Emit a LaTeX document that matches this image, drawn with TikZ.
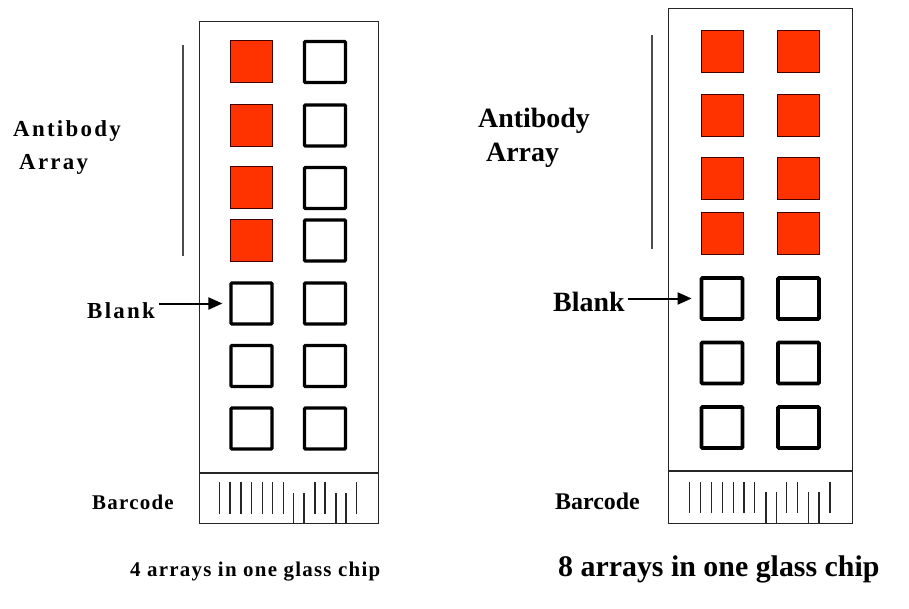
\documentclass[tikz,border=0pt]{standalone}
\usepackage{fontspec}
\setmainfont{Liberation Serif}
\newfontfamily\spc[LetterSpace=10]{Liberation Serif}
\newfontfamily\spcb[LetterSpace=6]{Liberation Serif}
\usetikzlibrary{arrows.meta}
\definecolor{spotred}{RGB}{255,51,0}
\begin{document}
\begin{tikzpicture}[x=1bp,y=-1bp,
  chip/.style={draw=black!85, line width=1.2bp, inner sep=0pt, anchor=north west},
  redsq/.style={draw=black!75!red, line width=1bp, fill=spotred, minimum size=42bp, inner sep=0pt},
  blanksq/.style={draw=black, line width=3.2bp, minimum size=41bp, inner sep=0pt, rounded corners=1bp},
  guide/.style={draw=black!70, line width=1.5bp},
  bar/.style={draw=black!85, line width=1.2bp},
  lbl/.style={inner sep=0pt, anchor=base west, font=\bfseries},
  pointer/.style={draw=black, line width=2bp, -{Triangle[length=14bp,width=12bp]}}
]
\useasboundingbox (0,0) rectangle (909,609);

% ---------- left chip ----------
\node[chip, minimum width=179bp, minimum height=502bp] (chipL) at (199,21) {};
\draw[chip] (199,473) -- (378,473);
\foreach \y [count=\i] in {62,125.5,188,240.5}{
  \node[redsq] (L1r\i) at (251.5,\y) {};
  \node[blanksq] (L2r\i) at (325,\y) {};
}
\foreach \y [count=\i from 5] in {303.5,366,428.5}{
  \node[blanksq] (L1r\i) at (251.5,\y) {};
  \node[blanksq] (L2r\i) at (325,\y) {};
}
\coordinate (gLa) at (183,45);
\coordinate (gLb) at (183,256);
\draw[guide] (gLa) -- (gLb);
\foreach \x in {219.3,230,241,251.7,262.3,272.7,283.3,315,325,356.7}
  \draw[bar] (\x,482) -- (\x,514);
\foreach \x in {293.3,304,336,346}
  \draw[bar] (\x,493) -- (\x,523);

\node[lbl, font=\spc\bfseries\fontsize{23}{25}\selectfont] (abL) at (13,136.7) {Antibody};
\node[lbl, font=\spc\bfseries\fontsize{23}{25}\selectfont] (arL) at (19,170) {Array};
\node[lbl, font=\spc\bfseries\fontsize{23}{25}\selectfont] (blL) at (87,318) {Blank};
\node[lbl, font=\spcb\bfseries\fontsize{21}{23}\selectfont] (bcL) at (92,509.3) {Barcode};
\node[lbl, font=\spcb\bfseries\fontsize{21}{23}\selectfont] (capL) at (130,576) {4 arrays in one glass chip};
\draw[pointer, shorten >=7bp] (blL.east |- L1r5.west) ++(4,0) -- (L1r5.west);

% ---------- right chip ----------
\node[chip, minimum width=184bp, minimum height=515bp] (chipR) at (668,8) {};
\draw[chip] (668,471) -- (852,471);
\foreach \y [count=\i] in {51.5,115.5,178.5,233.5}{
  \node[redsq] (R1r\i) at (722,\y) {};
  \node[redsq] (R2r\i) at (798.5,\y) {};
}
\foreach \y [count=\i from 5] in {298.5,363,427.5}{
  \node[blanksq, line width=3.8bp] (R1r\i) at (722,\y) {};
  \node[blanksq, line width=3.8bp] (R2r\i) at (798.5,\y) {};
}
\coordinate (gRa) at (652,35);
\coordinate (gRb) at (652,249);
\draw[guide] (gRa) -- (gRb);
\foreach \x in {689.3,700.7,711.7,722.7,733.3,744,754.7,786.7,797.7,830}
  \draw[bar] (\x,482) -- (\x,513);
\foreach \x in {766,776.7,808.7,819}
  \draw[bar] (\x,492) -- (\x,523);

\node[lbl, font=\bfseries\fontsize{28}{30}\selectfont] (abR) at (478,127.7) {Antibody};
\node[lbl, font=\bfseries\fontsize{28}{30}\selectfont] (arR) at (486,161.7) {Array};
\node[lbl, font=\bfseries\fontsize{28}{30}\selectfont] (blR) at (553,311.7) {Blank};
\node[lbl, font=\bfseries\fontsize{24}{26}\selectfont] (bcR) at (555,509.3) {Barcode};
\node[lbl, font=\bfseries\fontsize{30}{32}\selectfont] (capR) at (558,576) {8 arrays in one glass chip};
\draw[pointer, shorten >=8bp] (blR.east |- R1r5.west) ++(3,0) -- (R1r5.west);
\end{tikzpicture}
\end{document}
